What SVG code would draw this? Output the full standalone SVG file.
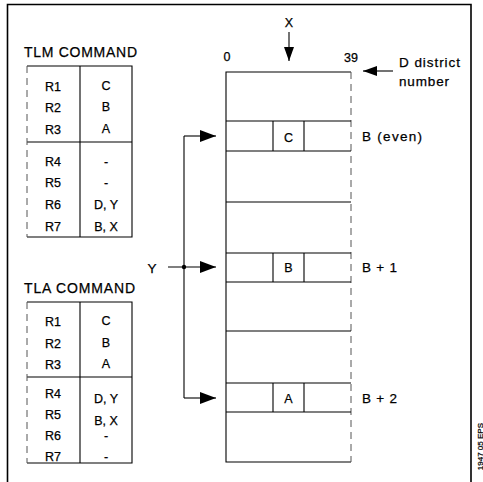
<svg xmlns="http://www.w3.org/2000/svg" width="483" height="482" viewBox="0 0 483 482">
<defs>
<style>
.t{font-family:"Liberation Sans",Arial,sans-serif;fill:#000;stroke:#000;stroke-width:0.25}
.h{font-size:14px}
.r{font-size:12.5px}
.l{font-size:13.5px}
.ln{stroke:#000;stroke-width:1.1;fill:none}
.dash{stroke:#555;stroke-width:1;fill:none;stroke-dasharray:7 5}
</style>
<marker id="ah" viewBox="0 0 16 12" refX="16" refY="6" markerWidth="16" markerHeight="12" markerUnits="userSpaceOnUse" orient="auto">
<path d="M0,0 L16,6 L0,12 z" fill="#000"/>
</marker>
<marker id="ahs" viewBox="0 0 14 10" refX="14" refY="5" markerWidth="14" markerHeight="10" markerUnits="userSpaceOnUse" orient="auto">
<path d="M0,0 L14,5 L0,10 z" fill="#000"/>
</marker>
</defs>
<rect width="483" height="482" fill="#fff"/>
<path d="M7.5,482 V4.5 H471 V482" fill="none" stroke="#000" stroke-width="1.6"/>

<g id="tlm-command">
<text class="t h" x="24" y="57" textLength="113">TLM COMMAND</text>
<path class="ln" d="M27,66 H132 V237 H27 M80,66 V237 M27,142 H132"/>
<path class="dash" d="M27,66 V237"/>
<g class="t r">
<text x="45" y="91">R1</text><text x="45" y="112">R2</text><text x="45" y="134">R3</text>
<text x="45" y="166">R4</text><text x="45" y="187">R5</text><text x="45" y="209">R6</text><text x="45" y="231">R7</text>
</g>
<g class="t r" text-anchor="middle">
<text x="106" y="90">C</text><text x="106" y="111">B</text><text x="106" y="133">A</text>
<text x="106" y="166">-</text><text x="106" y="187">-</text><text x="106" y="209">D, Y</text><text x="106" y="231">B, X</text>
</g>
</g>

<g id="tla-command">
<text class="t h" x="24" y="293" textLength="111">TLA COMMAND</text>
<path class="ln" d="M27,302 H132 V463 H27 M80,302 V463 M27,377 H132"/>
<path class="dash" d="M27,302 V463"/>
<g class="t r">
<text x="45" y="326">R1</text><text x="45" y="348">R2</text><text x="45" y="369">R3</text>
<text x="45" y="398">R4</text><text x="45" y="419">R5</text><text x="45" y="440">R6</text><text x="45" y="461">R7</text>
</g>
<g class="t r" text-anchor="middle">
<text x="106" y="325">C</text><text x="106" y="347">B</text><text x="106" y="368">A</text>
<text x="106" y="403">D, Y</text><text x="106" y="425">B, X</text><text x="106" y="440">-</text><text x="106" y="461">-</text>
</g>
</g>

<g id="memory">
<path class="ln" d="M351,72 H226 V462 H351"/>
<path class="dash" d="M351,72 V462"/>
<path class="ln" d="M226,121 H351 M226,151 H351 M226,202 H351 M226,253 H351 M226,282 H351 M226,331 H351 M226,383 H351 M226,412 H351"/>
<path class="ln" d="M273,121 V151 M304,121 V151 M273,253 V282 M304,253 V282 M273,383 V412 M304,383 V412"/>
<g class="t r" text-anchor="middle">
<text x="288.5" y="142">C</text>
<text x="288.5" y="272">B</text>
<text x="288.5" y="403">A</text>
</g>
<text class="t r" x="227" y="61" text-anchor="middle">0</text>
<text class="t r" x="351" y="62" text-anchor="middle">39</text>
</g>

<g id="labels">
<text class="t r" x="289" y="27" text-anchor="middle">X</text>
<text class="t l" x="399" y="67" textLength="61">D district</text>
<text class="t l" x="399" y="86" textLength="50">number</text>
<text class="t l" x="362" y="141" textLength="60">B (even)</text>
<text class="t l" x="362" y="272" textLength="35">B + 1</text>
<text class="t l" x="362" y="403" textLength="35">B + 2</text>
<text class="t l" x="152" y="273" text-anchor="middle">Y</text>
<text class="t" font-size="8" transform="translate(482.5,423) rotate(-90)" text-anchor="end">1947 05 EPS</text>
</g>

<g id="connectors">
<path class="ln" d="M289,32 V61" marker-end="url(#ahs)"/>
<path class="ln" d="M393,71 H363" marker-end="url(#ahs)"/>
<path class="ln" d="M184,136 V398"/>
<path class="ln" d="M184,136 H216" marker-end="url(#ah)"/>
<path class="ln" d="M168,267 H216" marker-end="url(#ah)"/>
<path class="ln" d="M184,398 H216" marker-end="url(#ah)"/>
<circle cx="184" cy="267" r="2.2" fill="#000"/>
</g>
</svg>
